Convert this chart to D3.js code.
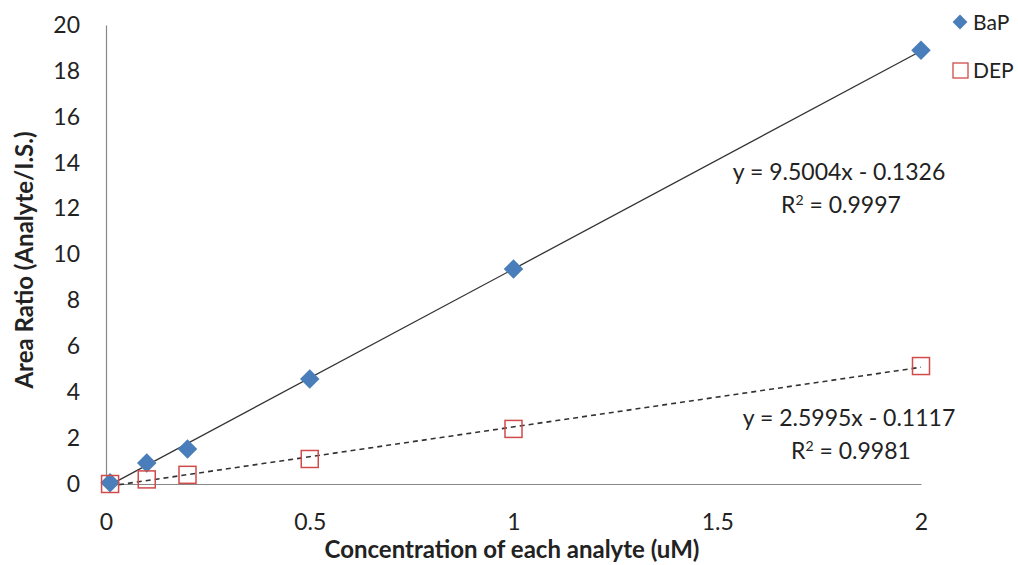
<!DOCTYPE html>
<html>
<head>
<meta charset="utf-8">
<script src="https://cdn.jsdelivr.net/npm/d3@7"></script>
<style>
  html, body { margin: 0; padding: 0; background: #fff; }
  svg { display: block; font-family: Lato, "Open Sans", sans-serif; }
</style>
</head>
<body>
<svg id="chart" width="1018" height="565"></svg>
<script>
// Calibration data: concentration (uM) vs area ratio (analyte / internal standard)
const concentrations = [0.01, 0.1, 0.2, 0.5, 1, 2];
const bapRatios = [0.05, 0.92, 1.52, 4.57, 9.37, 18.9];
const depRatios = [0.0, 0.2, 0.4, 1.09, 2.4, 5.14];
const xTicks = [0, 0.5, 1, 1.5, 2];
const yTicks = [0, 2, 4, 6, 8, 10, 12, 14, 16, 18, 20];
const seriesNames = ["BaP", "DEP"];
// Linear fits: [slope, intercept, R²]
const bapFit = [9.5004, -0.1326, 0.9997];
const depFit = [2.5995, -0.1117, 0.9981];

const svg = d3.select("#chart");
const x = d3.scaleLinear().domain([0, 2]).range([106, 921]);
const y = d3.scaleLinear().domain([0, 20]).range([484, 25]);

const axisColor = "#888";
const textColor = "#222";

// Axes
const xAxis = svg.append("g").attr("transform", `translate(0,${y(0)})`)
  .call(d3.axisBottom(x).tickValues(xTicks).tickSize(0).tickPadding(30)
    .tickFormat(d3.format("")));
const yAxis = svg.append("g").attr("transform", `translate(${x(0)},0)`)
  .call(d3.axisLeft(y).tickValues(yTicks).tickSize(0).tickPadding(26)
    .tickFormat(d3.format("")));
[xAxis, yAxis].forEach(g => {
  g.select(".domain").attr("stroke", axisColor).attr("stroke-width", 1.2);
  g.selectAll("text").attr("font-size", 23).attr("fill", textColor)
    .attr("font-family", "Lato, 'Open Sans', sans-serif");
});

// Axis titles
svg.append("text")
  .attr("x", 512).attr("y", 558)
  .attr("text-anchor", "middle")
  .attr("font-size", 24).attr("font-weight", "bold").attr("fill", textColor)
  .text("Concentration of each analyte (uM)");
svg.append("text")
  .attr("transform", "translate(33,260) rotate(-90)")
  .attr("text-anchor", "middle")
  .attr("font-size", 24).attr("font-weight", "bold").attr("fill", textColor)
  .text("Area Ratio (Analyte/I.S.)");

// Trend lines over the measured concentration range
function fitLine(fit) {
  const xs = d3.extent(concentrations);
  return xs.map(c => [x(c), y(fit[0] * c + fit[1])]);
}
const line = d3.line();
svg.append("path").attr("d", line(fitLine(bapFit)))
  .attr("fill", "none").attr("stroke", "#333").attr("stroke-width", 1.3);
svg.append("path").attr("d", line(fitLine(depFit)))
  .attr("fill", "none").attr("stroke", "#333").attr("stroke-width", 1.6)
  .attr("stroke-dasharray", "5,4");

// Markers
const diamond = d3.symbol().type(d3.symbolSquare).size(190);
svg.append("g").selectAll("path")
  .data(concentrations.map((c, i) => [c, bapRatios[i]]))
  .join("path")
  .attr("d", diamond)
  .attr("transform", d => `translate(${x(d[0])},${y(d[1])}) rotate(45)`)
  .attr("fill", "#4a7ebb");

const sq = 17;
svg.append("g").selectAll("rect")
  .data(concentrations.map((c, i) => [c, depRatios[i]]))
  .join("rect")
  .attr("x", d => x(d[0]) - sq / 2).attr("y", d => y(d[1]) - sq / 2)
  .attr("width", sq).attr("height", sq)
  .attr("fill", "none").attr("stroke", "#d14b4b").attr("stroke-width", 1.5);

// Regression equations
function equation(fit, cx, cy) {
  const sign = fit[1] < 0 ? "-" : "+";
  const g = svg.append("g").attr("font-size", 23).attr("fill", textColor)
    .attr("text-anchor", "middle");
  g.append("text").attr("x", cx).attr("y", cy)
    .text(`y = ${fit[0].toFixed(4)}x ${sign} ${Math.abs(fit[1]).toFixed(4)}`);
  const r = g.append("text").attr("x", cx + 2).attr("y", cy + 33);
  r.append("tspan").text("R");
  r.append("tspan").attr("dy", -8).attr("font-size", 14).text("2");
  r.append("tspan").attr("dy", 8).text(` = ${fit[2].toFixed(4)}`);
}
equation(bapFit, 839, 180);
equation(depFit, 849, 426);

// Legend
const legend = svg.append("g");
legend.append("path").attr("d", d3.symbol().type(d3.symbolSquare).size(110))
  .attr("transform", "translate(960,22) rotate(45)").attr("fill", "#4a7ebb");
legend.append("rect").attr("x", 953).attr("y", 63).attr("width", 15).attr("height", 15)
  .attr("fill", "none").attr("stroke", "#d14b4b").attr("stroke-width", 1.3);
legend.selectAll("text").data(seriesNames).join("text")
  .attr("x", 973).attr("y", (d, i) => 30 + i * 48)
  .attr("font-size", 21).attr("fill", textColor).text(d => d);
</script>
</body>
</html>
